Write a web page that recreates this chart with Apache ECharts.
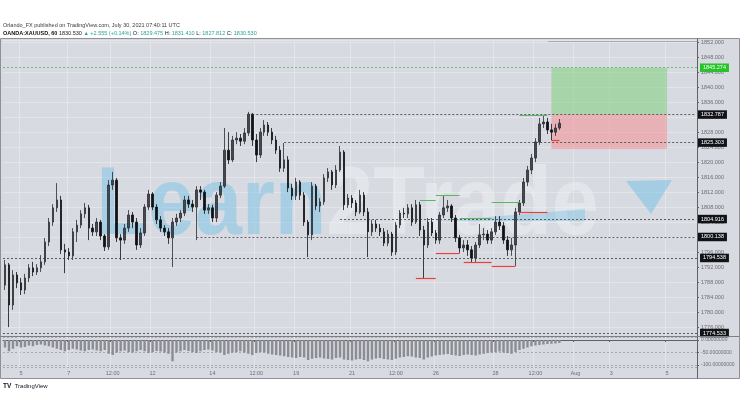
<!DOCTYPE html>
<html><head><meta charset="utf-8">
<script src="https://cdn.jsdelivr.net/npm/echarts@6/dist/echarts.min.js"></script>
<style>html,body{margin:0;padding:0;background:#fff}#c{width:740px;height:416px}</style>
</head><body><div id="c"></div>
<script>
// ---- data ----
const categoryCount = 174;
const tickLabels = [[4,'5'],[16,'7'],[27,'12:00'],[37,'12'],[52,'14'],[63,'12:00'],[73,'19'],[87,'21'],[98,'12:00'],[108,'26'],[123,'28'],[133,'12:00'],[143,'Aug'],[152,'3'],[166,'5']];
// [open, close, low, high]
const candles = [
[1787.3,1792.7,1786.0,1794.0],[1792.7,1782.0,1776.1,1793.2],[1782.0,1790.0,1780.7,1791.3],[1790.0,1787.9,1786.5,1790.8],
[1787.9,1786.0,1784.7,1789.2],[1786.0,1789.2,1784.9,1790.3],[1789.2,1791.9,1788.1,1792.9],[1791.9,1790.8,1789.7,1793.5],
[1790.8,1791.9,1790.0,1792.9],[1791.9,1793.5,1790.8,1795.3],[1793.5,1798.8,1792.7,1799.9],[1798.8,1804.1,1797.7,1805.2],
[1804.1,1807.9,1803.1,1808.9],[1807.9,1810.0,1806.8,1814.5],[1810.0,1796.7,1795.6,1811.1],[1796.7,1796.1,1790.5,1798.3],
[1796.1,1795.1,1794.0,1797.2],[1795.1,1801.5,1794.0,1802.5],[1801.5,1803.3,1798.8,1804.7],[1803.3,1806.3,1802.5,1807.3],
[1806.3,1807.9,1805.2,1809.2],[1807.9,1802.5,1799.3,1808.7],[1802.5,1801.5,1800.4,1803.6],[1801.5,1804.1,1800.4,1805.2],
[1804.1,1800.4,1799.3,1804.7],[1800.4,1797.5,1796.4,1800.9],[1797.5,1814.0,1796.7,1815.3],[1814.0,1815.3,1812.7,1817.5],
[1815.3,1799.9,1798.8,1815.9],[1799.9,1799.3,1794.0,1800.9],[1799.3,1802.5,1798.3,1803.6],[1802.5,1806.0,1801.5,1807.3],
[1806.0,1804.1,1802.5,1806.8],[1804.1,1798.0,1796.7,1805.2],[1798.0,1801.2,1797.2,1802.5],[1801.2,1808.1,1800.4,1808.9],
[1808.1,1811.6,1807.3,1812.7],[1811.6,1808.1,1807.3,1812.1],[1808.1,1804.7,1803.6,1808.9],[1804.7,1802.5,1801.5,1805.7],
[1802.5,1801.5,1800.4,1803.3],[1801.5,1799.9,1798.3,1802.5],[1799.9,1804.1,1792.1,1805.2],[1804.1,1805.2,1803.1,1806.3],
[1805.2,1806.5,1804.1,1807.3],[1806.5,1810.0,1805.7,1811.1],[1810.0,1808.9,1807.9,1811.1],[1808.9,1808.1,1806.8,1810.0],
[1808.1,1812.7,1799.3,1813.7],[1812.7,1812.1,1810.0,1813.7],[1812.1,1807.3,1806.3,1812.7],[1807.3,1807.9,1806.3,1808.9],
[1807.9,1805.2,1804.1,1808.7],[1805.2,1811.3,1804.1,1812.1],[1811.3,1813.7,1810.5,1814.8],[1813.7,1823.3,1813.2,1829.2],
[1823.3,1820.7,1819.6,1828.1],[1820.7,1826.0,1820.1,1827.1],[1826.0,1826.5,1824.9,1828.1],[1826.5,1825.7,1824.4,1827.6],
[1825.7,1827.9,1824.9,1829.2],[1827.9,1832.9,1827.1,1833.5],[1832.9,1826.0,1824.4,1833.2],[1826.0,1822.0,1820.1,1827.6],
[1822.0,1828.1,1821.2,1829.2],[1828.1,1830.0,1827.1,1831.3],[1830.0,1828.1,1827.1,1830.8],[1828.1,1826.0,1824.9,1829.2],
[1826.0,1823.3,1822.3,1827.1],[1823.3,1818.5,1817.5,1824.4],[1818.5,1820.7,1817.5,1825.2],[1820.7,1813.2,1812.1,1821.7],
[1813.2,1811.1,1810.0,1814.3],[1811.1,1814.8,1810.0,1815.9],[1814.8,1811.3,1810.0,1815.3],[1811.3,1804.1,1803.1,1812.1],
[1804.1,1800.7,1794.8,1804.7],[1800.7,1813.7,1799.3,1814.8],[1813.7,1808.4,1807.3,1814.3],[1808.4,1809.5,1806.8,1810.5],
[1809.5,1815.9,1808.7,1816.9],[1815.9,1817.5,1814.8,1818.5],[1817.5,1814.0,1812.7,1818.0],[1814.0,1818.0,1813.2,1819.3],
[1818.0,1822.8,1817.5,1824.4],[1822.8,1808.7,1807.3,1823.3],[1808.7,1810.5,1807.9,1811.6],[1810.5,1809.2,1807.9,1811.3],
[1809.2,1806.8,1805.7,1810.0],[1806.8,1811.3,1806.3,1812.7],[1811.3,1806.8,1805.7,1812.1],[1806.8,1801.5,1794.8,1807.9],
[1801.5,1803.6,1800.4,1804.7],[1803.6,1802.5,1801.5,1804.7],[1802.5,1801.5,1800.4,1803.6],[1801.5,1798.5,1797.7,1802.5],
[1798.5,1800.9,1797.7,1802.0],[1800.9,1796.1,1795.1,1801.5],[1796.1,1803.3,1795.3,1804.1],[1803.3,1806.5,1802.5,1807.3],
[1806.5,1806.3,1805.2,1807.9],[1806.3,1807.9,1805.2,1808.9],[1807.9,1804.1,1803.1,1808.9],[1804.1,1808.7,1803.6,1810.0],
[1808.7,1802.0,1800.4,1809.5],[1802.0,1798.0,1789.2,1803.1],[1798.0,1804.1,1797.2,1805.2],[1804.1,1801.2,1800.4,1805.2],
[1801.2,1799.3,1798.3,1802.0],[1799.3,1806.0,1798.3,1806.8],[1806.0,1807.9,1805.2,1811.1],[1807.9,1808.4,1806.8,1810.0],
[1808.4,1805.2,1804.1,1808.9],[1805.2,1799.9,1798.8,1806.0],[1799.9,1797.2,1795.9,1800.7],[1797.2,1798.0,1796.1,1799.3],
[1798.0,1796.7,1795.1,1799.3],[1796.7,1794.5,1793.2,1797.7],[1794.5,1798.0,1793.5,1798.8],[1798.0,1800.7,1797.2,1803.6],
[1800.7,1800.9,1799.3,1802.5],[1800.9,1799.3,1798.3,1802.0],[1799.3,1801.5,1798.3,1802.5],[1801.5,1804.1,1800.7,1805.7],
[1804.1,1803.1,1802.0,1805.7],[1803.1,1799.3,1798.3,1804.1],[1799.3,1796.7,1795.1,1800.4],[1796.7,1798.0,1795.1,1799.9],
[1798.0,1806.8,1792.4,1807.9],[1806.8,1809.2,1806.0,1810.0],[1809.2,1814.8,1808.4,1815.9],[1814.8,1818.0,1813.7,1819.1],
[1818.0,1821.2,1816.9,1822.3],[1821.2,1825.5,1820.1,1826.5],[1825.5,1830.3,1824.7,1831.9],[1830.3,1830.8,1829.2,1832.7],
[1830.8,1828.7,1827.6,1831.9],[1828.7,1828.1,1826.0,1830.3],[1828.1,1829.2,1827.1,1830.3],[1829.2,1830.5,1828.7,1831.6]
];
const oscillator = [
-30,-45,-35,-25,-30,-28,-22,-25,-20,-18,-22,-25,-30,-35,-40,
-45,-40,-35,-38,-42,-45,-40,-38,-42,-45,-40,-55,-60,-50,-45,
-42,-48,-50,-45,-40,-45,-52,-48,-44,-46,-50,-55,-85,-50,-45,
-40,-44,-48,-52,-45,-40,-38,-42,-48,-50,-60,-55,-50,-48,-45,
-50,-55,-60,-52,-48,-50,-55,-58,-60,-62,-65,-68,-70,-72,-68,
-70,-80,-75,-72,-70,-74,-76,-78,-72,-70,-78,-80,-82,-78,-76,
-80,-85,-78,-74,-72,-76,-78,-80,-75,-70,-68,-65,-66,-70,-72,
-78,-70,-66,-62,-60,-58,-56,-60,-62,-64,-60,-58,-60,-62,-58,
-55,-52,-50,-48,-46,-50,-52,-55,-48,-40,-35,-30,-25,-22,-20,
-18,-16,-15,-14,-12
];
// dashed price levels: [price, startIndex]
const levelLines = [[1832.787,61],[1825.303,70],[1804.916,84],[1800.138,48],[1794.538,0],[1774.533,0]];
const targetLevel = 1845.274;
// short user-drawn marks: [fromIndex, toIndex, price]
const greenMarks = [[104,108,1810.0],[108,114,1811.3],[114,122,1805.2],[122,129,1809.5],[129,136,1832.7]];
const redMarks = [[103,108,1789.2],[108,114,1795.9],[115,122,1793.5],[122,128,1792.4],[129,136,1806.8],[137,139,1826.0]];
// long position tool: [fromIndex, toIndex, target, entry, stop]
const position = [136.5,166,1845.274,1832.9,1823.6];

// ---- chart ----
const categories = Array.from({length: categoryCount}, (_, i) => 'c' + i);
const labelMap = new Map(tickLabels);
const FONT = 'Liberation Sans, Arial, sans-serif';
const axisGrey = '#6c6e74';
const gridLineCol = '#e4e5ea';

const markLineData = [];
levelLines.forEach(([p, s]) => {
  const lbl = {show: true, position: 'end', distance: 3, formatter: p.toFixed(3), color: '#fff',
    backgroundColor: '#121316', fontSize: 5.5, fontFamily: FONT, padding: [1.5, 3, 1, 3]};
  const ls = {color: '#3b3d43', type: [2, 2], width: 0.8};
  if (s === 0) markLineData.push({yAxis: p, lineStyle: ls, label: lbl});
  else markLineData.push([{coord: [s, p], lineStyle: ls, label: lbl}, {coord: [categoryCount - 1, p]}]);
});
markLineData.push({yAxis: targetLevel, lineStyle: {color: '#58b85a', type: [2, 2], width: 0.8},
  label: {show: true, position: 'end', distance: 3, formatter: targetLevel.toFixed(3), color: '#fff',
    backgroundColor: '#27c22a', fontSize: 5.5, fontFamily: FONT, padding: [1.5, 3, 1, 3]}});
greenMarks.forEach(([a, b, p]) => markLineData.push([{coord: [a, p], lineStyle: {color: '#5cb85e', type: 'solid', width: 1}, label: {show: false}}, {coord: [b, p]}]));
redMarks.forEach(([a, b, p]) => markLineData.push([{coord: [a, p], lineStyle: {color: '#e8413c', type: 'solid', width: 1.2}, label: {show: false}}, {coord: [b, p]}]));

const option = {
  backgroundColor: '#ffffff',
  animation: false,
  grid: [
    {left: 3, width: 694, top: 40, height: 296},
    {left: 3, width: 694, top: 337, height: 30}
  ],
  xAxis: [
    {gridIndex: 0, type: 'category', data: categories, boundaryGap: true,
      axisLine: {show: false}, axisTick: {show: false}, axisLabel: {show: false},
      splitLine: {show: true, interval: (i) => labelMap.has(i), lineStyle: {color: gridLineCol, width: 1}}},
    {gridIndex: 1, type: 'category', data: categories, boundaryGap: true,
      axisLine: {show: true, lineStyle: {color: '#5f6167', width: 1}},
      axisTick: {show: true, interval: (i) => labelMap.has(i), length: 2, lineStyle: {color: '#5f6167'}},
      axisLabel: {show: true, interval: (i) => labelMap.has(i), formatter: (v, i) => labelMap.get(i) || '',
        fontSize: 5.5, color: axisGrey, fontFamily: FONT, margin: 3},
      splitLine: {show: true, interval: (i) => labelMap.has(i), lineStyle: {color: gridLineCol, width: 1}}}
  ],
  yAxis: [
    {gridIndex: 0, type: 'value', position: 'right', min: 1773.7333, max: 1852.6667, minInterval: 4, maxInterval: 4,
      axisLine: {show: true, lineStyle: {color: '#5f6167', width: 1}},
      axisTick: {show: true, length: 2, lineStyle: {color: '#5f6167'}},
      axisLabel: {fontSize: 5.5, color: axisGrey, fontFamily: FONT, margin: 4, showMinLabel: false, showMaxLabel: false,
        formatter: (v) => v.toFixed(3)},
      splitLine: {show: true, lineStyle: {color: gridLineCol, width: 1}}},
    {gridIndex: 1, type: 'value', position: 'right', min: -108, max: 12, minInterval: 50, maxInterval: 50,
      axisLine: {show: true, lineStyle: {color: '#5f6167', width: 1}},
      axisTick: {show: true, length: 2, lineStyle: {color: '#5f6167'}},
      axisLabel: {fontSize: 5, color: axisGrey, fontFamily: FONT, margin: 4, showMinLabel: false, showMaxLabel: false,
        formatter: (v) => v.toFixed(8)},
      splitLine: {show: true, lineStyle: {color: '#9a9ca2', type: [2, 2], width: 0.8}}}
  ],
  series: [
    {type: 'candlestick', xAxisIndex: 0, yAxisIndex: 0, data: candles, barMaxWidth: 2, z: 3,
      itemStyle: {color: '#45484f', color0: '#111215', borderColor: '#2a2c31', borderColor0: '#111215', borderWidth: 0.8},
      markLine: {symbol: ['none', 'none'], silent: true, animation: false, data: markLineData},
      markArea: {silent: true, data: [
        [{coord: [position[0], position[2]], itemStyle: {color: 'rgba(120,205,115,0.5)'}}, {coord: [position[1], position[3]]}],
        [{coord: [position[0], position[3]], itemStyle: {color: 'rgba(245,135,140,0.5)'}}, {coord: [position[1], position[4]]}]
      ]}},
    {type: 'bar', xAxisIndex: 1, yAxisIndex: 1, data: oscillator, barWidth: 2.4,
      itemStyle: {color: '#8b8d93'}}
  ],
  graphic: [
    {type: 'rect', z: -10, silent: true, shape: {x: 0.5, y: 38.5, width: 739, height: 340},
      style: {fill: '#d8dae1', stroke: '#8f9197', lineWidth: 1}},
    {type: 'line', z: 50, silent: true, shape: {x1: 697.5, y1: 38.5, x2: 697.5, y2: 378.5}, style: {stroke: '#5f6167', lineWidth: 1}},
    {type: 'line', z: 50, silent: true, shape: {x1: 0.5, y1: 336.5, x2: 739.5, y2: 336.5}, style: {stroke: '#7d7f85', lineWidth: 1}},
    {type: 'line', z: 50, silent: true, shape: {x1: 548, y1: 41.5, x2: 697, y2: 41.5}, style: {stroke: '#a9abb0', lineWidth: 1}},
    {type: 'text', z: 1, silent: true, x: 86, y: 208, scaleX: 0.88, originX: 86, originY: 208,
      style: {text: '{a|Learn}{b|2Trade}', fontFamily: FONT, fontWeight: 'bold', fontSize: 96, verticalAlign: 'middle',
        rich: {a: {fill: 'rgba(112,192,230,0.48)', fontSize: 96, fontWeight: 'bold', fontFamily: FONT},
               b: {fill: 'rgba(240,242,247,0.45)', fontSize: 96, fontWeight: 'bold', fontFamily: FONT}}}},
    {type: 'polygon', z: 1, silent: true, shape: {points: [[626, 181], [672, 180], [651, 214]]},
      style: {fill: 'rgba(112,192,230,0.5)'}},
    {type: 'polygon', z: 1, silent: true, shape: {points: [[440, 221], [585, 221], [585, 209]]},
      style: {fill: 'rgba(112,192,230,0.4)'}},
    {type: 'text', silent: true, x: 3, y: 25, style: {text: 'Orlando_FX published on TradingView.com, July 30, 2021 07:40:11 UTC',
      fontSize: 5.5, fontFamily: FONT, fill: '#3a3a3a', verticalAlign: 'middle'}},
    {type: 'text', silent: true, x: 3, y: 33, style: {
      text: '{k|OANDA:XAUUSD, 60} {n|1830.530} {g|▲ +2.555 (+0.14%)} {n|O:} {g|1829.475} {n|H:} {g|1831.410} {n|L:} {g|1827.812} {n|C:} {g|1830.530}',
      verticalAlign: 'middle', fontSize: 5.5, fontFamily: FONT,
      rich: {k: {fontSize: 5.5, fontWeight: 'bold', fill: '#111', fontFamily: FONT},
             n: {fontSize: 5.5, fill: '#222', fontFamily: FONT},
             g: {fontSize: 5.5, fill: '#2aa39a', fontFamily: FONT}}}},
    {type: 'text', silent: true, x: 3, y: 386, style: {text: '{l|TV} {t|TradingView}', verticalAlign: 'middle',
      rich: {l: {fontSize: 6.5, fontWeight: 'bold', fill: '#131722', fontFamily: FONT},
             t: {fontSize: 6, fill: '#131722', fontFamily: FONT}}}}
  ]
};
const chart = echarts.init(document.getElementById('c'));
chart.setOption(option);
</script>
</body></html>
